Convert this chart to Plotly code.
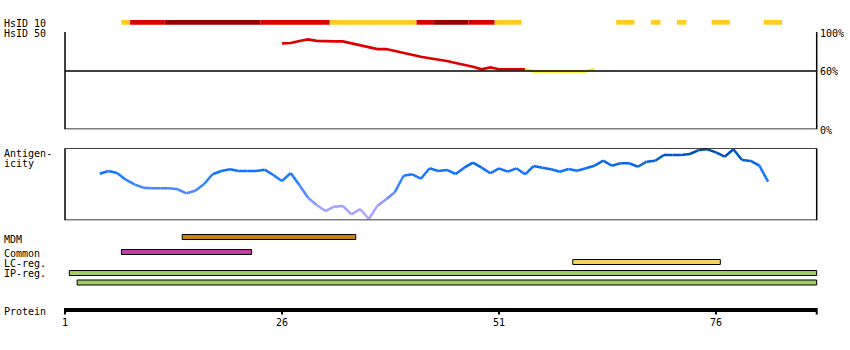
import plotly.graph_objects as go

# ---------------- data ----------------
protein_length_end = 87.6
ticks = [1, 26, 51, 76]
tick_labels = ["1", "26", "51", "76"]

# HsID 10 segments: (start_edge, end_edge, level)  level: 0=yellow, 1=red, 2=dark red
hsid10_start = [7.5, 8.5, 12.5, 23.5, 31.5, 41.5, 43.5, 47.5, 50.5, 64.5, 68.5, 71.5, 75.5, 81.5]
hsid10_end   = [8.5, 12.5, 23.5, 31.5, 41.5, 43.5, 47.5, 50.5, 53.6, 66.6, 69.6, 72.6, 77.6, 83.6]
hsid10_level = [0, 1, 2, 1, 0, 1, 2, 1, 0, 0, 0, 0, 0, 0]

# HsID 50 identity (%) per residue
hsid50_res = list(range(26, 63))
hsid50_val = [88.4, 88.7, 90.8, 92.5, 90.8, 90.4, 90.4, 90.4, 88.4, 86.6,
              84.9, 82.5, 82.5, 80.5, 78.1, 76.1, 74.6, 73.0, 71.9, 70.2,
              68.1, 66.4, 64.3, 61.7, 63.7, 61.7, 61.7, 61.7, 61.7, 59.6,
              59.6, 59.6, 59.6, 59.6, 59.6, 59.6, 62.0]
hsid50_threshold = 60

# Antigenicity score per residue (0-100 scale)
antig_res = list(range(5, 83))
antig_val = [64.7, 68.5, 65.7, 56.4, 50.0, 45.3, 44.4, 44.4, 44.4, 43.1,
             37.5, 41.1, 50.0, 63.9, 68.5, 70.8, 68.5, 68.5, 68.5, 70.3,
             62.9, 54.6, 65.7, 49.0, 31.4, 21.3, 12.9, 18.9, 19.9, 8.3,
             15.7, 1.8, 20.3, 29.2, 38.9, 61.9, 63.9, 57.8, 72.2, 68.5,
             70.0, 64.3, 73.1, 80.0, 73.1, 65.3, 72.2, 67.5, 72.2, 63.9,
             75.4, 73.1, 70.8, 67.5, 71.3, 68.9, 72.2, 75.8, 82.8, 75.8,
             79.2, 79.2, 74.4, 81.4, 82.8, 90.7, 90.7, 90.7, 92.1, 97.6,
             98.6, 94.4, 88.3, 98.6, 83.8, 82.4, 75.8, 53.6]

# feature tracks
track_names  = ["MDM", "Common", "LC-reg.", "IP-reg."]
track_starts = [[14.5], [7.5], [59.5], [1.5, 2.4]]
track_ends   = [[34.5], [22.5], [76.5], [87.6, 87.6]]
track_colors = ["#c8820e", "#c23ea6", "#f2d45a", "#a2cc62"]

# ---------------- layout geometry (pixels) ----------------
W, H = 850, 350
X0_PX, PX_PER_RES = 65, 8.68
xr = [1 - X0_PX / PX_PER_RES, 1 + (W - X0_PX) / PX_PER_RES]

def dom(top_px, bottom_px):
    return [(H - bottom_px) / H, (H - top_px) / H]

FONT = dict(family="DejaVu Sans Mono", size=10, color="black")

fig = go.Figure()
shapes = []
annotations = []

# ---- HsID 10 bar ----
lvl_col = {0: "#ffcc22", 1: "#dd0000", 2: "#990000"}
for s, e, l in zip(hsid10_start, hsid10_end, hsid10_level):
    shapes.append(dict(type="rect", xref="x", yref="y", x0=s, x1=e, y0=20, y1=24.7,
                       fillcolor=lvl_col[l], line=dict(width=0), layer="above"))

# ---- HsID 50 panel (yaxis2) ----
shapes.append(dict(type="rect", xref="x", yref="y2", x0=1, x1=protein_length_end,
                   y0=0, y1=103.8, line=dict(color="black", width=1.5), fillcolor="rgba(0,0,0,0)"))
shapes.append(dict(type="line", xref="x", yref="y2", x0=1, x1=protein_length_end,
                   y0=hsid50_threshold, y1=hsid50_threshold, line=dict(color="black", width=1.5)))

# group segments by colour
segs = []
for i in range(len(hsid50_res) - 1):
    low = min(hsid50_val[i], hsid50_val[i + 1]) < hsid50_threshold
    col = "#ffee11" if low else "#dd0000"
    if segs and segs[-1][0] == col:
        segs[-1][1].append(i + 1)
    else:
        segs.append([col, [i, i + 1]])
for col, idx in segs:
    fig.add_trace(go.Scatter(x=[hsid50_res[j] for j in idx], y=[hsid50_val[j] for j in idx],
                             mode="lines", line=dict(color=col, width=2.7),
                             yaxis="y2", hoverinfo="skip"))

for lab, v in [("100%", 100), ("60%", 60), ("0%", 0)]:
    annotations.append(dict(text=lab, xref="paper", x=818 / W, yref="y2", y=v,
                            xanchor="left", yanchor="middle", showarrow=False, font=FONT,
                            yshift=-1))

# ---- Antigenicity panel (yaxis3) ----
shapes.append(dict(type="rect", xref="x", yref="y3", x0=1, x1=protein_length_end,
                   y0=0, y1=100, line=dict(color="black", width=1.5), fillcolor="rgba(0,0,0,0)"))

stops = [(0, (184, 168, 255)), (20, (160, 160, 250)), (40, (80, 136, 255)),
         (55, (40, 128, 255)), (70, (16, 112, 255)), (85, (0, 96, 210)), (100, (0, 72, 160))]

def colour(v):
    for (a, ca), (b, cb) in zip(stops[:-1], stops[1:]):
        if v <= b:
            t = (v - a) / (b - a)
            c = [round(ca[k] + t * (cb[k] - ca[k])) for k in range(3)]
            return "rgb(%d,%d,%d)" % tuple(c)
    return "rgb(%d,%d,%d)" % stops[-1][1]

for i in range(len(antig_res) - 1):
    m = (antig_val[i] + antig_val[i + 1]) / 2
    fig.add_trace(go.Scatter(x=antig_res[i:i + 2], y=antig_val[i:i + 2], mode="lines",
                             line=dict(color=colour(m), width=2.5), yaxis="y3",
                             hoverinfo="skip"))

# ---- feature tracks ----
track_y = [[237], [252], [262], [273, 282.5]]
for name, ss, ee, col, yy in zip(track_names, track_starts, track_ends, track_colors, track_y):
    for s, e, yc in zip(ss, ee, yy):
        shapes.append(dict(type="rect", xref="x", yref="y", x0=s, x1=e, y0=yc - 2.5, y1=yc + 2.5,
                           fillcolor=col, line=dict(color="black", width=1)))

# ---- protein axis ----
shapes.append(dict(type="line", xref="x", yref="y", x0=1, x1=protein_length_end, y0=310, y1=310,
                   line=dict(color="black", width=4)))
for t in ticks + [protein_length_end]:
    shapes.append(dict(type="line", xref="x", yref="y", x0=t, x1=t, y0=308, y1=314.5,
                       line=dict(color="black", width=2)))
for t, lab in zip(ticks, tick_labels):
    annotations.append(dict(text=lab, xref="x", x=t, yref="y", y=322.5, xanchor="center",
                            yanchor="middle", showarrow=False, font=FONT))

# ---- left labels ----
left_labels = [("HsID 10", 22.5), ("HsID 50", 32.5), ("Antigen-", 152.5), ("icity", 162.5),
               ("MDM", 238.5), ("Common", 253), ("LC-reg.", 263), ("IP-reg.", 273),
               ("Protein", 310.5)]
for lab, yv in left_labels:
    annotations.append(dict(text=lab, xref="paper", x=2 / W, yref="y", y=yv + 0.5,
                            xanchor="left", yanchor="middle", showarrow=False, font=FONT))

fig.update_layout(
    width=W, height=H, margin=dict(l=0, r=0, t=0, b=0),
    paper_bgcolor="white", plot_bgcolor="white", showlegend=False,
    xaxis=dict(range=xr, visible=False, fixedrange=True),
    yaxis=dict(range=[H, 0], domain=[0, 1], visible=False, fixedrange=True),
    yaxis2=dict(range=[0, 100], domain=dom(32, 129.3), visible=False, fixedrange=True),
    yaxis3=dict(range=[0, 100], domain=dom(148.3, 220.3), visible=False, fixedrange=True),
    shapes=shapes, annotations=annotations,
)

fig.write_html("out.html")
